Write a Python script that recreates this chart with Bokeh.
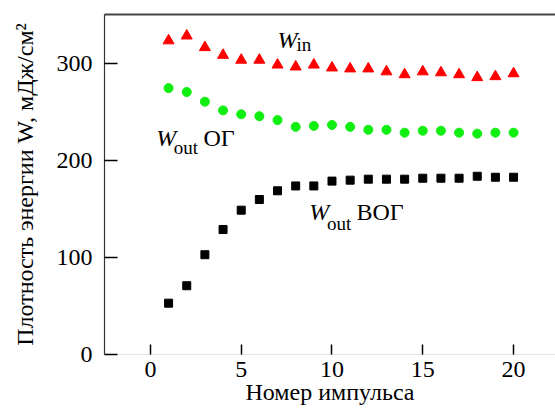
from bokeh.plotting import figure
from bokeh.models import Range1d, LinearAxis, FixedTicker, Label
from bokeh.embed import file_html
from bokeh.resources import INLINE

pulse = list(range(1, 21))
w_in = [324, 329, 317, 309, 304, 304, 299, 297, 299, 296, 295, 295, 292, 289, 292, 291, 289, 286, 287, 290]
w_out_og = [275, 271, 261, 252, 248, 246, 242, 235, 236, 237, 235, 232, 232, 229, 231, 231, 229, 228, 229, 229]
w_out_vog = [53, 71, 103, 129, 149, 160, 169, 174, 174, 179, 180, 181, 181, 181, 182, 182, 182, 184, 183, 183]

x_ticks = [0, 5, 10, 15, 20]
y_ticks = [0, 100, 200, 300]

FONT = "Liberation Serif"

p = figure(width=555, height=408, output_backend="svg", toolbar_location=None,
           x_range=Range1d(-2.53, 22.31), y_range=Range1d(0, 351),
           min_border_left=104, min_border_right=0, min_border_top=14, min_border_bottom=54,
           x_axis_label="Номер импульса",
           y_axis_label="Плотность энергии W, мДж/см²")
p.grid.visible = False
p.outline_line_color = None
p.background_fill_color = "white"
p.border_fill_color = "white"

xa = p.xaxis[0]
xa.ticker = FixedTicker(ticks=x_ticks)
xa.minor_tick_line_color = None
xa.major_tick_in = 10
xa.major_tick_out = 0
xa.major_tick_line_width = 1.5
xa.major_tick_line_color = "black"
xa.axis_line_color = "#e6e6e6"
xa.major_label_text_font = FONT
xa.major_label_text_font_size = "24px"
xa.major_label_text_color = "black"
xa.major_label_standoff = 7
xa.axis_label_text_font = FONT
xa.axis_label_text_font_style = "normal"
xa.axis_label_text_font_size = "24px"
xa.axis_label_text_color = "black"
xa.axis_label_standoff = -1

ya = p.yaxis[0]
ya.ticker = FixedTicker(ticks=y_ticks)
ya.minor_tick_line_color = None
ya.major_tick_in = 13
ya.major_tick_out = 0
ya.major_tick_line_width = 1.5
ya.major_tick_line_color = "black"
ya.axis_line_color = "#333333"
ya.axis_line_width = 1.2
ya.major_label_text_font = FONT
ya.major_label_text_font_size = "24px"
ya.major_label_text_color = "black"
ya.major_label_standoff = 12
ya.axis_label_text_font = FONT
ya.axis_label_text_font_style = "normal"
ya.axis_label_text_font_size = "24px"
ya.axis_label_text_color = "black"
ya.axis_label_standoff = 16

top = LinearAxis(ticker=FixedTicker(ticks=[]), major_label_text_font_size="0px",
                 axis_line_color="#444444", axis_line_width=2,
                 major_tick_line_color=None, minor_tick_line_color=None)
p.add_layout(top, "above")

p.scatter(pulse, w_in, marker="triangle", size=11, fill_color="#ff0000", line_color="#ff0000")
p.scatter(pulse, w_out_og, marker="circle", size=9, fill_color="#11ee11", line_color="#11ee11")
p.scatter(pulse, w_out_vog, marker="square", size=8, fill_color="black", line_color="black")

def lab(x, y, text, size, style="normal"):
    p.add_layout(Label(x=x, y=y, text=text, text_font=FONT, text_font_size=size,
                       text_font_style=style, text_color="black",
                       text_baseline="alphabetic", text_align="left"))

# W_in
lab(7.0, 325, "W", "24px", "italic")
lab(8.05, 320, "in", "19px")
# W_out ОГ
lab(0.32, 223, "W", "24px", "italic")
lab(1.29, 214, "out", "19px")
lab(2.92, 223, "ОГ", "24px")
# W_out ВОГ
lab(8.75, 147, "W", "24px", "italic")
lab(9.72, 135.6, "out", "19px")
lab(11.35, 147, "ВОГ", "24px")

open("out.html", "w").write(file_html(p, INLINE))
